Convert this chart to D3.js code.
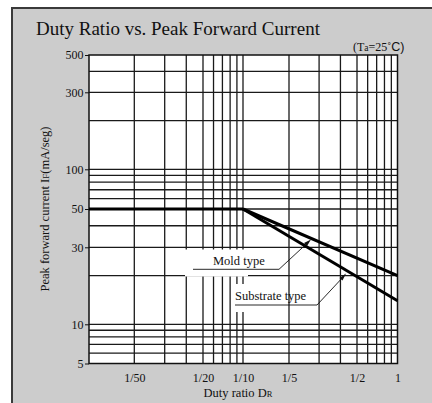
<!DOCTYPE html>
<html><head><meta charset="utf-8">
<script src="https://cdn.jsdelivr.net/npm/d3@7"></script>
<style>
html,body{margin:0;padding:0;background:#fff;}
svg{display:block;}
text{font-family:"Liberation Serif","Times New Roman",serif;fill:#111;}
</style></head>
<body><svg id="c" width="432" height="403"></svg>
<script>
// ---- data ----
const xTickValues = [0.02, 0.05, 0.1, 0.2, 0.5, 1];
const xTickLabels = ["1/50", "1/20", "1/10", "1/5", "1/2", "1"];
const yTickValues = [5, 10, 30, 50, 100, 300, 500];
const yTickLabels = ["5", "10", "30", "50", "100", "300", "500"];
const xGrid = [0.02,0.03,0.04,0.05,0.06,0.07,0.08,0.09,0.1,0.2,0.3,0.4,0.5,0.6,0.7,0.8,0.9];
const yGrid = [6,7,8,9,10,20,30,40,50,60,70,80,90,100,200,300,400];
const flatDuty = [0.01, 0.1];
const flatCurrent = [50, 50];
const moldDuty = [0.1, 1];
const moldCurrent = [50, 20];
const substrateDuty = [0.1, 1];
const substrateCurrent = [50, 14];

// ---- layout ----
const svg = d3.select("#c");
svg.append("rect").attr("x",12).attr("y",8).attr("width",440).attr("height",420)
  .attr("fill","#cccccc").attr("stroke","#3a3a3a").attr("stroke-width",2);

const x = d3.scaleLog()
  .domain([0.01, 0.02, 0.05, 0.1, 0.2, 0.5, 1])
  .range([89, 134.3, 203, 243, 289, 357, 397.5]);
const y = d3.scaleLog()
  .domain([5, 10, 30, 50, 100, 300, 500])
  .range([363.5, 324.3, 247.3, 209, 169.3, 92.3, 55]);

const L = x(0.01), R = x(1), T = y(500), B = y(5);
svg.append("rect").attr("x",L).attr("y",T).attr("width",R-L).attr("height",B-T).attr("fill","#fff");

const g = svg.append("g");
g.selectAll("line.vx").data(xGrid).join("line")
  .attr("x1",d=>x(d)).attr("x2",d=>x(d)).attr("y1",T).attr("y2",B)
  .attr("stroke","#1a1a1a").attr("stroke-width",1.3);
g.selectAll("line.hy").data(yGrid).join("line")
  .attr("y1",d=>y(d)).attr("y2",d=>y(d)).attr("x1",L).attr("x2",R)
  .attr("stroke","#1a1a1a").attr("stroke-width",1.3);

// white masks behind labels (cut the fine grid lines)
svg.append("rect").attr("x",185).attr("y",249.5).attr("width",63).attr("height",27).attr("fill","#fff");
svg.append("rect").attr("x",233).attr("y",284).attr("width",14).attr("height",28).attr("fill","#fff");

svg.append("rect").attr("x",L).attr("y",T).attr("width",R-L).attr("height",B-T)
  .attr("fill","none").attr("stroke","#111").attr("stroke-width",1.5);

// axes
const xAxis = svg.append("g").attr("transform",`translate(0,${B})`)
  .call(d3.axisBottom(x).tickValues(xTickValues).tickFormat((d,i)=>xTickLabels[i]).tickSize(0).tickPadding(10));
const yAxis = svg.append("g").attr("transform",`translate(${L},0)`)
  .call(d3.axisLeft(y).tickValues(yTickValues).tickFormat((d,i)=>yTickLabels[i]).tickSize(4).tickPadding(1.5));
[xAxis,yAxis].forEach(a=>{
  a.select(".domain").remove();
  a.selectAll("text").style("font-family","Liberation Serif, serif").style("font-size","12px").attr("fill","#111");
  a.selectAll(".tick line").attr("stroke","#111");
});

// data lines
const line = d3.line().x(d=>x(d[0])).y(d=>y(d[1]));
const thick = (xs,ys)=> svg.append("path").datum(xs.map((v,i)=>[v,ys[i]]))
  .attr("d",line).attr("fill","none").attr("stroke","#000").attr("stroke-width",3).attr("stroke-linecap","butt");
thick(flatDuty, flatCurrent);
thick(moldDuty, moldCurrent);
thick(substrateDuty, substrateCurrent);

// annotations
const ann = svg.append("g");
ann.append("text").attr("x",213).attr("y",264.5).style("font-size","12.5px").text("Mold type");
ann.append("path").attr("d","M193,269.3H279L309,241.5").attr("fill","none").attr("stroke","#111").attr("stroke-width",0.9);
ann.append("path").attr("d","M311,239.5L304,243L307,246Z").attr("fill","#111");
ann.append("text").attr("x",235).attr("y",300).style("font-size","12.5px").text("Substrate type");
ann.append("path").attr("d","M235,305H317L344.5,275.5").attr("fill","none").attr("stroke","#111").attr("stroke-width",0.9);
ann.append("path").attr("d","M346,273.5L339.5,278L342.5,280.5Z").attr("fill","#111");

// title & texts
svg.append("text").attr("x",36).attr("y",35).style("font-size","19px").text("Duty Ratio vs. Peak Forward Current");
const ta = svg.append("text").attr("x",353).attr("y",51).style("font-size","12px");
ta.append("tspan").text("(T");
ta.append("tspan").style("font-size","9.5px").text("a");
ta.append("tspan").text("=25˚");
ta.append("tspan").style("font-family","Liberation Sans, Arial, sans-serif").style("font-size","12.5px").text("C)");

const xl = svg.append("text").attr("x",238).attr("y",397).attr("text-anchor","middle").style("font-size","12.5px");
xl.append("tspan").text("Duty ratio D");
xl.append("tspan").style("font-size","8.5px").text("R");

const yl = svg.append("text").attr("transform","translate(49,209) rotate(-90)").attr("text-anchor","middle").style("font-size","12.5px");
yl.append("tspan").text("Peak forward current I");
yl.append("tspan").style("font-size","9px").text("F");
yl.append("tspan").text("(mA/seg)");
</script></body></html>
